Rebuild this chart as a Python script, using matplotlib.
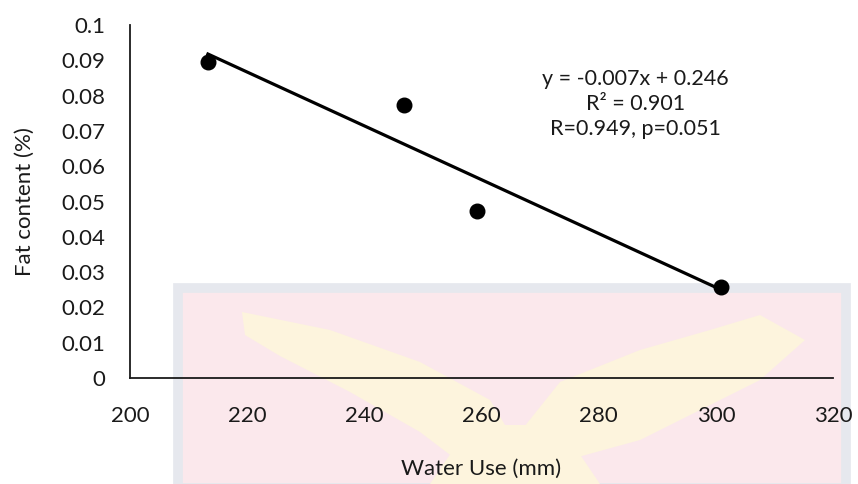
import numpy as np
import matplotlib.pyplot as plt
from matplotlib.patches import Rectangle, Polygon

# Water use (mm) and fat content (%) per treatment
water_use = [213.3, 246.7, 259.3, 300.9]
fat_content = [0.0895, 0.0773, 0.0472, 0.0258]

x_ticks = [200, 220, 240, 260, 280, 300, 320]
y_ticks = [0, 0.01, 0.02, 0.03, 0.04, 0.05, 0.06, 0.07, 0.08, 0.09, 0.1]
y_tick_labels = ["0", "0.01", "0.02", "0.03", "0.04", "0.05", "0.06",
                 "0.07", "0.08", "0.09", "0.1"]
stats_text = "y = -0.007x + 0.246\nR² = 0.901\nR=0.949, p=0.051"

plt.rcParams['font.family'] = ['Lato', 'DejaVu Sans']

W, H = 858, 484
fig = plt.figure(figsize=(W / 100, H / 100), dpi=100)

# emblem panel behind the plot, laid out in pixel units
bg = fig.add_axes([0, 0, 1, 1], zorder=0)
bg.set_xlim(0, W)
bg.set_ylim(H, 0)
bg.axis("off")
bg.add_patch(Rectangle((178, 288), 668, 200, facecolor="#fbe8ec",
                       edgecolor="#e6e8ee", linewidth=7))
wing_color = "#fdf4dd"
left_wing = [(242, 312), (330, 330), (420, 362), (490, 400), (520, 450), (470, 470),
             (420, 432), (350, 392), (280, 356), (245, 335)]
right_wing = [(760, 315), (805, 340), (760, 380), (700, 410), (640, 440), (560, 462),
              (520, 432), (560, 382), (640, 350), (710, 330)]
tail = [(470, 425), (560, 425), (600, 484), (430, 484)]
for pts in (left_wing, right_wing, tail):
    bg.add_patch(Polygon(pts, closed=True, facecolor=wing_color, edgecolor="none"))

ax = fig.add_axes([130 / W, 1 - 378 / H, (833 - 130) / W, (378 - 25) / H], zorder=1)
ax.patch.set_alpha(0)

ax.scatter(water_use, fat_content, s=110, color="black", zorder=3)

# least-squares trend line across the observed range
slope, intercept = np.polyfit(water_use, fat_content, 1)
xs = np.array([min(water_use), max(water_use)])
ax.plot(xs, slope * xs + intercept, color="black", linewidth=2.3, zorder=2)

ax.text(0.719, 0.875, stats_text, transform=ax.transAxes, ha="center", va="top",
        fontsize=15.5, linespacing=1.3, color="#1a1a1a")

ax.set_xlim(200, 320)
ax.set_ylim(0, 0.1)
ax.set_xticks(x_ticks)
ax.set_yticks(y_ticks)
ax.set_yticklabels(y_tick_labels)
ax.tick_params(axis="both", length=0, labelsize=16, colors="#1a1a1a")
ax.tick_params(axis="x", pad=20)
ax.tick_params(axis="y", pad=18)

for side in ("top", "right"):
    ax.spines[side].set_visible(False)
for side in ("left", "bottom"):
    ax.spines[side].set_linewidth(1.3)
    ax.spines[side].set_color("#1a1a1a")

ax.set_xlabel("Water Use (mm)", fontsize=16, labelpad=24, color="#1a1a1a")
ax.set_ylabel("Fat content (%)", fontsize=16, labelpad=19, color="#1a1a1a")

fig.savefig("out.png", dpi=100)
